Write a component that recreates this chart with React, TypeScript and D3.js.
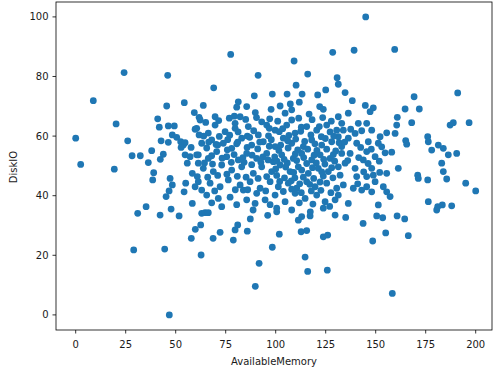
import React from "react";
import * as d3 from "d3";

// AvailableMemory (x) and DiskIO (y) values
const availableMemory: number[] = [
  8.8, 24.2, 46.0, 54.3, 45.5, 59.3, 63.8, 41.0, 61.7, 77.5, 109.2, 128.5, 91.2, 116.0, 69.0, 110.2, 130.7, 131.3, 98.3, 89.3,
  105.7, 113.2, 121.0, 125.0, 81.3, 80.5, 85.5, 89.8, 97.7, 102.2, 107.3, 108.0, 111.8, 122.0, 123.8, 131.3, 69.7, 79.3, 116.7, 104.7,
  145.0, 139.2, 159.5, 134.7, 138.3, 144.8, 148.8, 147.2, 136.3, 169.2, 164.7, 171.8, 191.0, 160.8, 187.2, 188.8, 196.7,
  20.2, 0, 2.5, 19.3, 26.0, 28.2, 32.3, 38.0, 36.3, 41.8, 46.3, 49.3, 42.7, 46.3, 48.3, 50.5, 52.5, 53.8, 54.7, 52.7,
  57.7, 59.7, 61.7, 43.8, 42.3, 54.7, 57.2, 60.5, 55.8, 61.3, 39.0, 38.5, 47.2, 48.3, 46.7, 45.2, 55.0, 54.2, 58.3, 60.8,
  59.7, 63.0, 58.3, 63.0, 31.0, 35.2, 42.2, 47.7, 51.7,
  59.8, 62.5, 57.8, 29.0, 44.5, 62.7, 46.8,
  64.7, 66.3, 68.7, 72.2, 78.8, 79.7, 81.0, 85.8, 87.3, 96.0, 100.5, 101.8, 98.3, 91.7, 89.8, 111.3, 117.2, 117.3, 112.7, 115.5,
  123.8, 126.0, 114.7, 116.0, 125.8, 88.7,
  135.0, 143.7, 150.5, 153.5, 160.7, 164.5, 148.5, 155.0, 166.3, 158.3, 180.5,
  168.0, 141.3, 145.5, 160.5, 159.7, 155.5, 176.0, 176.3, 181.3, 183.8, 178.0, 186.3, 190.5, 165.0, 165.5, 152.2, 146.3, 151.3, 153.0, 154.7,
  158.0, 139.7, 136.3, 131.3, 130.5, 133.0, 140.5, 145.5, 149.7, 143.8, 133.0, 137.2, 134.7, 139.7, 148.0, 155.5, 161.3, 183.0, 183.8, 185.5,
  171.0, 171.3, 176.0, 195.0, 200.0, 148.8, 149.7, 145.5, 140.5, 132.2, 133.8, 138.8, 143.0, 148.0, 153.8, 155.5, 157.2, 136.3, 151.3, 176.3,
  181.0, 183.3, 188.0, 129.7,
  108.0, 62.2, 93.0, 79.7, 82.2, 60.5, 66.3, 69.7, 74.7, 79.7, 86.3, 91.3, 95.5, 99.7, 105.5, 109.7, 115.5, 120.5, 125.5, 133.8,
  63.0, 68.0, 73.8, 78.0, 83.0, 88.0, 93.8, 99.7, 103.8, 108.0, 113.8, 118.0, 123.0, 128.0, 133.0,
  61.3, 66.3, 70.5, 75.5, 81.3, 85.5, 90.5, 95.5, 98.8, 103.0, 108.8, 113.0, 118.0, 122.2, 127.2,
  63.8, 68.8, 73.0, 78.0, 83.0, 88.8, 93.0, 98.0, 102.2, 107.2, 111.3, 116.3, 121.3, 126.3, 131.3,
  61.3, 67.2, 72.2, 76.3, 82.2, 87.2, 92.2, 97.2, 101.3, 106.3, 110.5, 115.5, 119.7, 125.5, 130.5,
  65.5, 71.3, 77.2, 83.8, 90.5, 94.7, 99.7, 104.7, 109.7, 114.7, 120.5, 124.7, 131.3,
  73.0, 89.7, 100.5, 108.0, 113.0, 123.8, 129.7,
  65.0, 71.5, 76.8, 85.0, 90.4, 97.0, 101.0, 111.5, 118.2, 123.5, 127.8,
  64.0, 71.8, 77.0, 81.2, 85.8, 89.0, 96.4, 101.8, 106.6, 112.5, 117.6, 122.8, 127.2, 131.7,
  65.5, 71.0, 75.8, 80.5, 85.7, 91.0, 96.8, 101.6, 106.2, 111.0, 116.0, 120.6, 125.5, 130.0,
  64.4, 68.4, 77.8, 84.2, 88.0, 92.6, 96.2, 100.6, 105.8, 110.5, 115.5, 120.3, 124.6, 129.5,
  66.0, 71.0, 75.6, 80.8, 85.2, 91.2, 95.5, 100.5, 104.4, 109.6, 113.8, 119.0, 123.8, 128.6,
  69.5, 79.8, 86.0, 95.0, 103.8, 108.0, 112.8, 117.8, 122.6, 127.6,
  68.0, 80.5, 85.5, 97.2, 111.8, 118.6, 127.0,
  137.5, 143.0, 148.0, 142.5, 147.8, 136.0, 141.5, 146.2, 151.8, 144.0, 152.0, 141.0, 145.5,
  97.8, 102.5, 106.0, 110.0, 114.5, 119.6, 124.8, 129.0, 134.5,
  99.5, 104.2, 109.8, 114.0, 119.2, 124.0, 128.8,
  100.0, 105.0, 109.0, 113.0, 118.4, 123.0, 128.0,
  102.0, 107.8, 112.0, 117.0, 122.2,
  66.5, 70.2, 76.0, 81.0, 87.0, 92.0,
  68.0, 73.2, 79.2, 83.6, 88.2, 93.6,
  103.5, 112.8, 121.8, 96.8,
];

const diskIO: number[] = [
  71.9, 81.3, 80.4, 71.2, 70.1, 67.9, 70.3, 65.8, 66.3, 87.4, 85.2, 88.1, 80.4, 80.8, 76.2, 77.1, 79.6, 77.4, 74.1, 73.5,
  74.1, 74.1, 73.8, 75.5, 71.5, 69.7, 69.9, 67.9, 69.0, 70.1, 70.8, 68.8, 71.4, 69.9, 69.0, 66.5, 66.5, 66.7, 67.4, 67.7,
  100.0, 88.8, 89.1, 74.6, 71.9, 70.3, 69.5, 68.2, 67.7, 73.2, 69.1, 69.1, 74.5, 66.3, 63.7, 64.5, 64.5,
  64.1, 59.3, 50.5, 48.9, 58.4, 53.4, 53.4, 55.1, 51.1, 63.0, 63.4, 63.4, 58.4, 57.9, 60.4, 59.6, 58.1, 57.0, 57.8, 56.2,
  56.2, 62.3, 60.4, 53.9, 52.2, 53.7, 53.1, 53.7, 50.9, 50.9, 47.7, 45.3, 45.8, 43.6, 41.6, 39.7, 44.2, 41.3, 47.5, 46.4,
  43.0, 41.9, 37.4, 34.1, 34.1, 36.3, 33.5, 35.5, 33.2,
  28.7, 30.2, 25.7, 21.8, 22.1, 20.1, 0,
  34.3, 34.3, 25.7, 27.7, 25.1, 28.5, 30.2, 28.1, 32.2, 33.4, 34.6, 27.1, 22.7, 17.3, 9.6, 31.8, 33.2, 34.6, 27.9, 28.3,
  26.2, 26.8, 19.4, 14.6, 15.0, 35.2,
  32.7, 30.7, 33.2, 32.6, 33.2, 32.2, 24.8, 27.5, 26.6, 7.2, 35.2,
  64.5, 64.3, 64.3, 63.7, 60.9, 61.1, 59.8, 58.1, 57.0, 55.9, 55.3, 53.7, 54.2, 58.5, 57.3, 59.8, 58.1, 57.6, 56.4, 54.4,
  54.6, 60.9, 59.3, 59.8, 62.0, 64.3, 57.6, 54.8, 53.1, 52.0, 54.2, 54.2, 50.9, 49.2, 49.2, 47.5, 49.2, 50.9, 48.1, 45.6,
  46.9, 45.8, 45.3, 44.2, 41.6, 46.9, 44.7, 46.4, 46.4, 46.9, 43.6, 42.5, 41.9, 41.3, 43.0, 41.3, 39.7, 37.4, 36.9, 38.0,
  36.3, 36.9, 36.6, 38.6,
  65.4, 65.4, 64.8, 64.3, 66.5, 62.6, 61.0, 63.7, 61.5, 62.6, 63.2, 60.4, 63.7, 62.0, 63.7, 61.0, 63.2, 62.0, 63.7, 62.0,
  57.6, 58.7, 57.6, 55.9, 59.3, 57.0, 58.1, 56.5, 59.3, 57.6, 56.5, 58.7, 57.0, 58.1, 56.5,
  53.7, 52.5, 54.8, 53.1, 52.0, 54.2, 52.5, 54.2, 51.4, 53.7, 52.5, 54.2, 52.0, 53.7, 52.5,
  49.2, 48.1, 50.3, 48.6, 49.7, 47.5, 49.7, 48.1, 50.3, 48.1, 49.7, 47.5, 49.2, 48.1, 49.7,
  44.7, 44.2, 43.0, 45.3, 43.6, 44.7, 42.5, 44.7, 43.0, 44.2, 42.5, 44.7, 43.0, 44.2, 42.5,
  40.2, 39.1, 39.5, 41.9, 40.8, 38.6, 40.2, 38.0, 40.8, 39.1, 40.2, 38.0, 40.2,
  36.3, 37.4, 35.8, 35.2, 33.0, 35.8, 33.5,
  64.6, 65.2, 66.0, 65.6, 66.2, 65.8, 65.0, 66.0, 65.5, 66.2, 65.0,
  60.0, 59.9, 60.3, 61.4, 60.0, 61.8, 60.1, 61.5, 60.2, 61.6, 60.4, 59.8, 61.4, 57.8,
  56.0, 57.0, 55.4, 57.4, 56.2, 55.7, 56.6, 55.2, 56.0, 55.4, 55.6, 55.2, 55.6, 55.0,
  51.0, 50.6, 51.2, 51.2, 50.4, 51.2, 52.0, 51.6, 51.0, 51.8, 50.8, 51.0, 50.6, 51.6,
  46.2, 46.8, 47.2, 46.5, 46.2, 45.8, 46.4, 46.8, 46.0, 46.0, 46.2, 45.8, 46.6, 46.0,
  41.6, 42.0, 42.0, 41.6, 41.4, 42.2, 41.0, 41.6, 41.8, 41.0,
  37.6, 37.0, 38.6, 37.0, 37.6, 37.2, 36.4,
  62.3, 61.8, 62.0, 56.2, 55.6, 51.8, 52.8, 50.8, 51.6, 48.0, 47.8, 44.0, 43.0,
  58.8, 57.0, 58.4, 59.0, 58.2, 57.4, 59.2, 60.0, 58.0,
  53.0, 52.2, 54.0, 52.8, 53.6, 52.2, 53.8,
  49.0, 49.6, 47.8, 48.6, 49.4, 48.0, 49.4,
  44.8, 45.0, 44.0, 43.8, 44.6,
  58.0, 57.2, 58.8, 58.0, 59.6, 58.0,
  53.4, 52.6, 53.8, 52.8, 53.6, 53.0,
  62.5, 63.0, 63.2, 62.6,
];

const xTicks = [0, 25, 50, 75, 100, 125, 150, 175, 200];
const yTicks = [0, 20, 40, 60, 80, 100];
const xLabel = "AvailableMemory";
const yLabel = "DiskIO";

const W = 497;
const H = 369;
const left = 56;
const right = 492;
const top = 2;
const bottom = 330;

export default function App() {
  const x = d3.scaleLinear().domain([-9.85, 208.15]).range([left, right]);
  const y = d3.scaleLinear().domain([-5.07, 105.0]).range([bottom, top]);
  const n = Math.min(availableMemory.length, diskIO.length);
  const pts = d3.range(n).map((i) => [availableMemory[i], diskIO[i]] as [number, number]);
  const font = "'DejaVu Sans', sans-serif";
  const textColor = "#1a1a1a";
  return (
    <svg
      width={W}
      height={H}
      viewBox={`0 0 ${W} ${H}`}
      style={{ position: "fixed", left: 0, top: 0, background: "#fff" }}
      fontFamily={font}
    >
      <rect x={0} y={0} width={W} height={H} fill="#fff" />
      <g>
        {pts.map((p, i) => (
          <circle key={i} cx={x(p[0])} cy={y(p[1])} r={3.4} fill="#1f77b4" />
        ))}
      </g>
      <rect
        x={left}
        y={top}
        width={right - left}
        height={bottom - top}
        fill="none"
        stroke="#000"
        strokeWidth={0.8}
      />
      {xTicks.map((t) => (
        <g key={"x" + t}>
          <line x1={x(t)} x2={x(t)} y1={bottom} y2={bottom + 3.5} stroke="#000" strokeWidth={0.8} />
          <text x={x(t)} y={347.5} textAnchor="middle" fontSize={10} fill={textColor}>
            {t}
          </text>
        </g>
      ))}
      {yTicks.map((t) => (
        <g key={"y" + t}>
          <line x1={left - 3.5} x2={left} y1={y(t)} y2={y(t)} stroke="#000" strokeWidth={0.8} />
          <text x={48.5} y={y(t) + 3.6} textAnchor="end" fontSize={10} fill={textColor}>
            {t}
          </text>
        </g>
      ))}
      <text x={(left + right) / 2} y={364.5} textAnchor="middle" fontSize={10} fill={textColor}>
        {xLabel}
      </text>
      <text
        transform={`translate(16.5,${(top + bottom) / 2 + 1}) rotate(-90)`}
        textAnchor="middle"
        fontSize={10}
        fill={textColor}
      >
        {yLabel}
      </text>
    </svg>
  );
}
